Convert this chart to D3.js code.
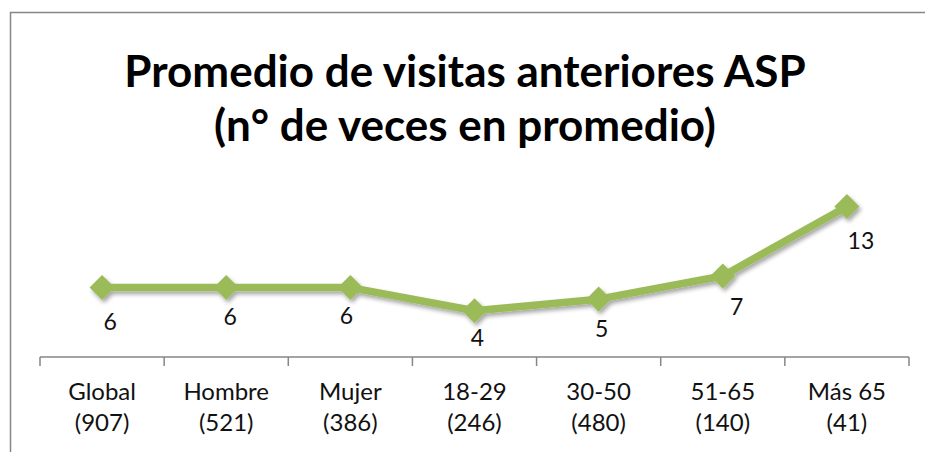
<!DOCTYPE html>
<html>
<head>
<meta charset="utf-8">
<script src="https://cdn.jsdelivr.net/npm/d3@7"></script>
<style>
  body { margin: 0; background: #fff; }
  svg { display: block; font-family: Lato, "Open Sans", sans-serif; }
</style>
</head>
<body>
<div id="chart"></div>
<script>
// data
var categories = ["Global", "Hombre", "Mujer", "18-29", "30-50", "51-65", "Más 65"];
var counts = ["(907)", "(521)", "(386)", "(246)", "(480)", "(140)", "(41)"];
var values = [6, 6, 6, 4, 5, 7, 13];
var titleLines = ["Promedio de visitas anteriores ASP", "(n° de veces en promedio)"];

// label nudges (dx, dy) from the point, the labels were hand placed
var labelNudge = [[8, 34], [4, 29], [-4, 28], [3, 27], [3, 30], [14, 31], [14, 34]];

var width = 925, height = 452;
var green = "#9bbb59", axisGrey = "#868686";

var svg = d3.select("#chart")
	.append("svg")
	.attr("width", width)
	.attr("height", height);

var defs = svg.append("defs");
defs.append("filter")
	.attr("id", "shadow")
	.attr("x", "-20%").attr("y", "-20%")
	.attr("width", "140%").attr("height", "160%")
	.append("feDropShadow")
		.attr("dx", 2).attr("dy", 3)
		.attr("stdDeviation", 2)
		.attr("flood-color", "#000")
		.attr("flood-opacity", 0.35);

// chart border
svg.append("rect")
	.attr("x", 10.5).attr("y", 12.5)
	.attr("width", width).attr("height", height)
	.attr("fill", "none")
	.attr("stroke", axisGrey)
	.attr("stroke-width", 1.5);

// title
svg.append("g")
	.selectAll("text")
	.data(titleLines)
	.enter()
	.append("text")
		.attr("x", 465)
		.attr("y", function(d, i) { return 87 + i * 54; })
		.attr("text-anchor", "middle")
		.attr("font-weight", "bold")
		.attr("font-size", 44)
		.attr("fill", "#000")
		.text(function(d) { return d; });

var x = d3.scaleBand()
	.domain(categories)
	.range([40, 909]);

var y = d3.scaleLinear()
	.domain([0, 14])
	.range([357, 195]);

// category axis
var axis = svg.append("g");
axis.append("line")
	.attr("x1", x.range()[0]).attr("x2", x.range()[1])
	.attr("y1", y(0)).attr("y2", y(0))
	.attr("stroke", axisGrey)
	.attr("stroke-width", 1.5);

var bounds = categories.map(function(c) { return x(c); }).concat([x.range()[1]]);
axis.selectAll(".tick")
	.data(bounds)
	.enter()
	.append("line")
		.attr("class", "tick")
		.attr("x1", function(d) { return d; })
		.attr("x2", function(d) { return d; })
		.attr("y1", y(0))
		.attr("y2", y(0) + 9)
		.attr("stroke", axisGrey)
		.attr("stroke-width", 1.5);

var catLabels = axis.selectAll(".cat")
	.data(categories)
	.enter()
	.append("text")
		.attr("class", "cat")
		.attr("x", function(d) { return x(d) + x.bandwidth() / 2; })
		.attr("y", 400)
		.attr("text-anchor", "middle")
		.attr("font-size", 24)
		.attr("fill", "#111");
catLabels.append("tspan")
	.text(function(d) { return d; });
catLabels.append("tspan")
	.attr("x", function(d) { return x(d) + x.bandwidth() / 2; })
	.attr("dy", 31)
	.text(function(d, i) { return counts[i]; });

// series
var pts = values.map(function(v, i) {
	return { cat: categories[i], v: v, i: i };
});
var cx = function(d) { return x(d.cat) + x.bandwidth() / 2; };
var cy = function(d) { return y(d.v); };

var series = svg.append("g").attr("filter", "url(#shadow)");

series.append("path")
	.datum(pts)
	.attr("d", d3.line().x(cx).y(cy))
	.attr("fill", "none")
	.attr("stroke", green)
	.attr("stroke-width", 7.5)
	.attr("stroke-linejoin", "round");

series.selectAll(".marker")
	.data(pts)
	.enter()
	.append("path")
		.attr("class", "marker")
		.attr("d", d3.symbol().type(d3.symbolDiamond2).size(400))
		.attr("transform", function(d) { return "translate(" + cx(d) + "," + cy(d) + ")"; })
		.attr("fill", green);

svg.append("g")
	.selectAll("text")
	.data(pts)
	.enter()
	.append("text")
		.attr("x", function(d) { return cx(d) + labelNudge[d.i][0]; })
		.attr("y", function(d) { return cy(d) + labelNudge[d.i][1]; })
		.attr("dy", "0.35em")
		.attr("text-anchor", "middle")
		.attr("font-size", 23)
		.attr("fill", "#111")
		.text(function(d) { return d.v; });
</script>
</body>
</html>
